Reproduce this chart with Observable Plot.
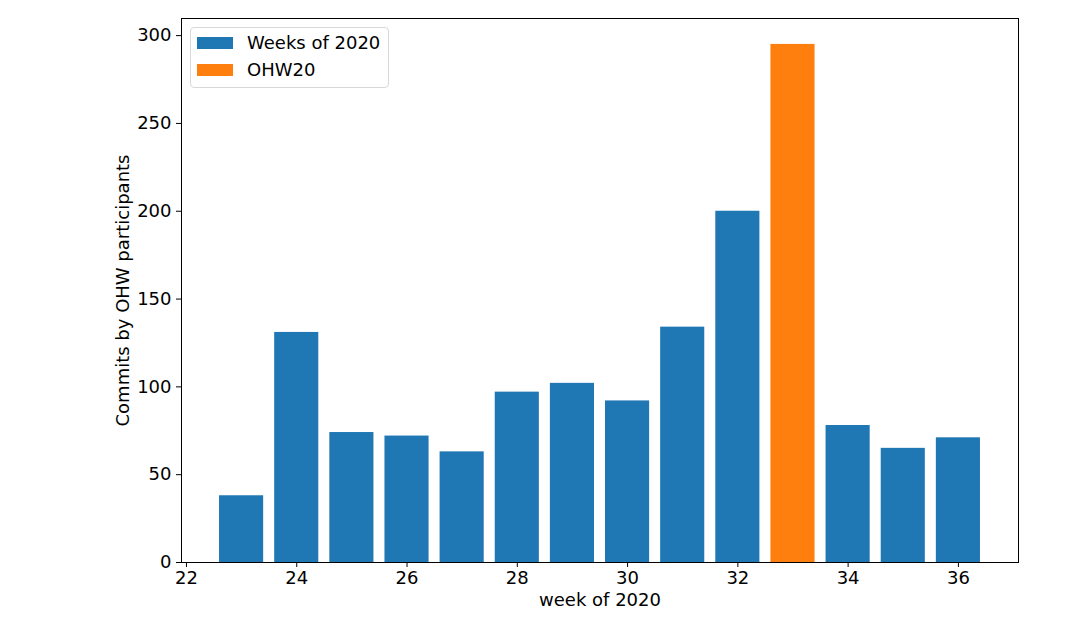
<!DOCTYPE html>
<html>
<head>
<meta charset="utf-8">
<script src="https://cdn.jsdelivr.net/npm/d3@7"></script>
<script src="https://cdn.jsdelivr.net/npm/@observablehq/plot@0.6"></script>
<style>
  html, body { margin: 0; padding: 0; background: #fff; }
  #wrap { position: relative; width: 1081px; height: 633px; font-family: "DejaVu Sans", sans-serif; }
  .legend { position: absolute; left: 190px; top: 27px; width: 197px; height: 59px;
            border: 1px solid #d8d8d8; border-radius: 4px; background: rgba(255,255,255,0.8);
            font-size: 18px; color: #000; }
  .legend .item { position: absolute; left: 6px; display: flex; align-items: center; line-height: 20px; }
  .legend .sw { width: 36px; height: 12px; margin-right: 14px; }
</style>
</head>
<body>
<div id="wrap"></div>
<script>
// Commits per week of 2020, OHW20 week highlighted
const weeks   = [23, 24, 25, 26, 27, 28, 29, 30, 31, 32, 33, 34, 35, 36];
const commits = [38, 131, 74, 72, 63, 97, 102, 92, 134, 200, 295, 78, 65, 71];
const groups  = ["Weeks of 2020", "Weeks of 2020", "Weeks of 2020", "Weeks of 2020", "Weeks of 2020",
                 "Weeks of 2020", "Weeks of 2020", "Weeks of 2020", "Weeks of 2020", "Weeks of 2020",
                 "OHW20", "Weeks of 2020", "Weeks of 2020", "Weeks of 2020"];
const seriesNames  = ["Weeks of 2020", "OHW20"];
const seriesColors = ["#1f77b4", "#ff7f0e"];
const xTicks = [22, 24, 26, 28, 30, 32, 34, 36];
const yTicks = [0, 50, 100, 150, 200, 250, 300];

const data = weeks.map((w, i) => ({week: w, commits: commits[i], group: groups[i]}));
const barWidth = 0.8;

// 5% padding around the bar extents on both axes
const xLo = d3.min(weeks) - barWidth / 2, xHi = d3.max(weeks) + barWidth / 2;
const xPad = (xHi - xLo) * 0.05;
const yHi = d3.max(commits) * 1.05;

const chart = Plot.plot({
  width: 1081,
  height: 633,
  marginLeft: 181,
  marginRight: 63,
  marginTop: 18,
  marginBottom: 71,
  style: {fontFamily: "DejaVu Sans, sans-serif", fontSize: "18px", color: "#000", background: "#fff"},
  x: {domain: [xLo - xPad, xHi + xPad]},
  y: {domain: [0, yHi]},
  color: {domain: seriesNames, range: seriesColors},
  marks: [
    Plot.rectY(data, {
      x1: d => d.week - barWidth / 2,
      x2: d => d.week + barWidth / 2,
      y: "commits",
      fill: "group"
    }),
    Plot.frame({stroke: "#000", strokeWidth: 1}),
    Plot.axisX({
      ticks: xTicks, tickSize: 5, tickPadding: 4, fontSize: 18,
      tickFormat: d3.format("d"),
      label: "week of 2020", labelAnchor: "center", labelArrow: "none", labelOffset: 43
    }),
    Plot.axisY({
      ticks: yTicks, tickSize: 5, tickPadding: 5, fontSize: 18,
      tickFormat: d3.format("d"),
      label: "Commits by OHW participants", labelAnchor: "center", labelArrow: "none", labelOffset: 65
    })
  ]
});

const wrap = document.getElementById("wrap");
wrap.appendChild(chart);

// Legend box in the upper-left corner of the plot area
const legend = document.createElement("div");
legend.className = "legend";
seriesNames.forEach((name, i) => {
  const item = document.createElement("div");
  item.className = "item";
  item.style.top = (i === 0 ? 5 : 32) + "px";
  const sw = document.createElement("span");
  sw.className = "sw";
  sw.style.background = seriesColors[i];
  const label = document.createElement("span");
  label.textContent = name;
  item.appendChild(sw);
  item.appendChild(label);
  legend.appendChild(item);
});
wrap.appendChild(legend);
</script>
</body>
</html>
